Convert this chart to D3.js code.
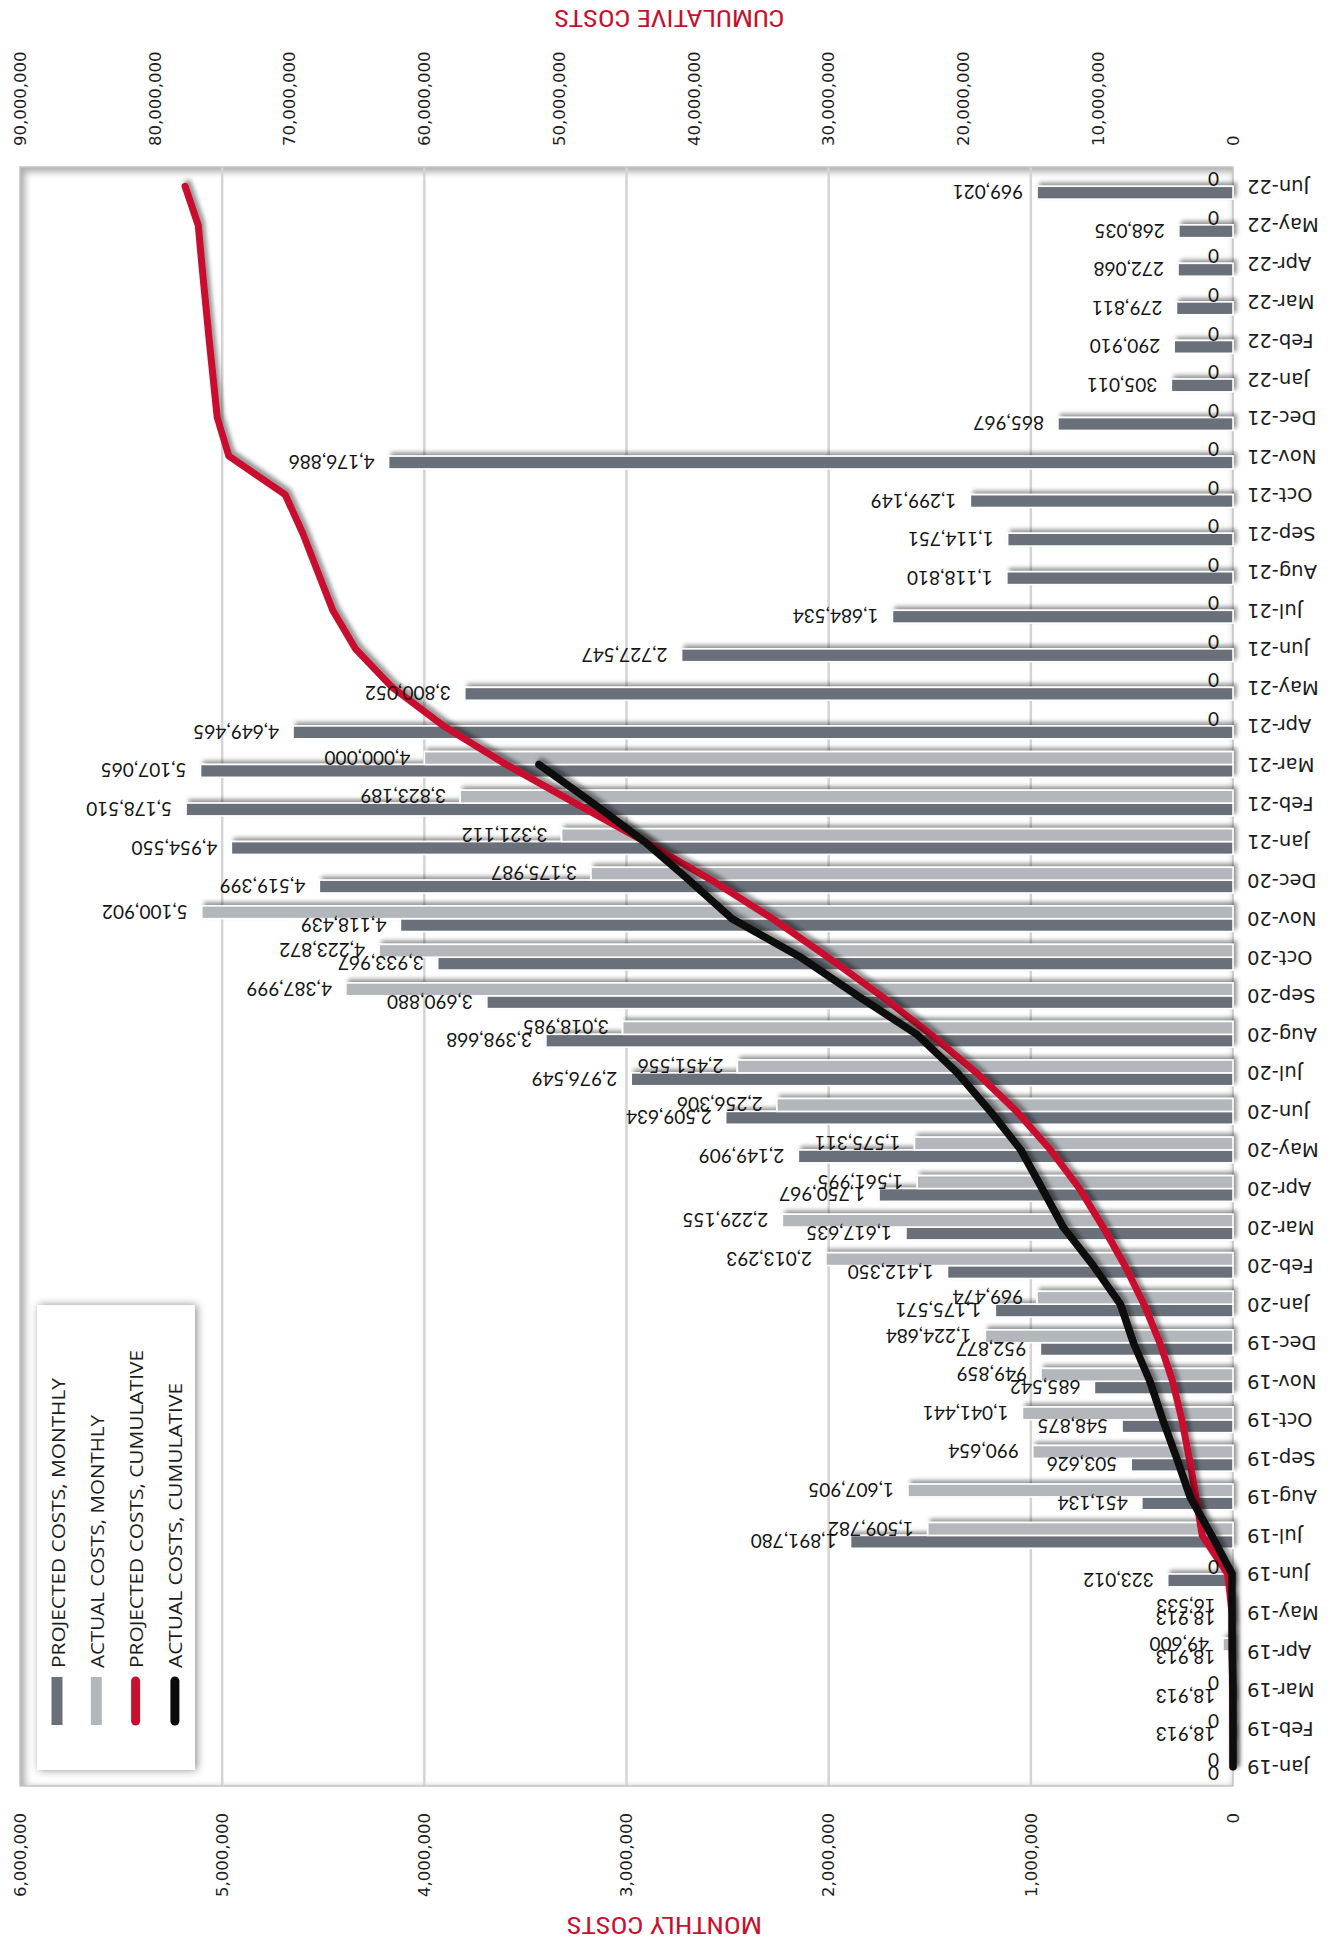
<!DOCTYPE html>
<html>
<head>
<meta charset="utf-8">
<script src="https://cdn.jsdelivr.net/npm/d3@7"></script>
<style>
  html, body { margin: 0; padding: 0; background: #fff; }
  svg { display: block; }
</style>
</head>
<body>
<svg id="chart" width="1332" height="1944"></svg>
<script>
// Months of the project schedule
const months = [
  "Jan-19","Feb-19","Mar-19","Apr-19","May-19","Jun-19","Jul-19","Aug-19","Sep-19","Oct-19","Nov-19","Dec-19",
  "Jan-20","Feb-20","Mar-20","Apr-20","May-20","Jun-20","Jul-20","Aug-20","Sep-20","Oct-20","Nov-20","Dec-20",
  "Jan-21","Feb-21","Mar-21","Apr-21","May-21","Jun-21","Jul-21","Aug-21","Sep-21","Oct-21","Nov-21","Dec-21",
  "Jan-22","Feb-22","Mar-22","Apr-22","May-22","Jun-22"
];

// Projected monthly costs
const projectedMonthly = [
  0, 18913, 18913, 18913, 18913, 323012, 1891780, 451134, 503626, 548875, 685542, 952877,
  1175571, 1412350, 1617635, 1750967, 2149909, 2509634, 2976549, 3398668, 3690880, 3933967, 4118439, 4519399,
  4954550, 5178510, 5107065, 4649465, 3800052, 2727547, 1684534, 1118810, 1114751, 1299149, 4176886, 865967,
  305011, 290910, 279811, 272068, 268035, 969021
];

// Actual monthly costs (reported through Mar-21)
const actualMonthly = [
  0, 0, 0, 49600, 16533, 0, 1509782, 1607905, 990654, 1041441, 949859, 1224684,
  969474, 2013293, 2229155, 1561995, 1575311, 2256306, 2451556, 3018985, 4387999, 4223872, 5100902, 3175987,
  3321112, 3823189, 4000000, 0, 0, 0, 0, 0, 0, 0, 0, 0,
  0, 0, 0, 0, 0, 0
];
const lastActualMonth = "Mar-21";

// Axis ticks
const monthlyTicks = [0, 1000000, 2000000, 3000000, 4000000, 5000000, 6000000];
const cumulativeTicks = [0, 10000000, 20000000, 30000000, 40000000, 50000000, 60000000, 70000000, 80000000, 90000000];

const legendItems = [
  { label: "PROJECTED COSTS, MONTHLY",    kind: "bar",  color: "#6a7079", len: 290 },
  { label: "ACTUAL COSTS, MONTHLY",       kind: "bar",  color: "#b3b7bb", len: 253 },
  { label: "PROJECTED COSTS, CUMULATIVE", kind: "line", color: "#c8102e", len: 318 },
  { label: "ACTUAL COSTS, CUMULATIVE",    kind: "line", color: "#0a0a0a", len: 285 }
];

const COLORS = { projected: "#6a7079", actual: "#b3b7bb", projCum: "#c8102e", actCum: "#0a0a0a", title: "#c8102e" };

// The chart is laid out as a landscape column chart and turned a quarter
// turn counter-clockwise to fill the portrait page.
const W = 1944, H = 1332;
const plot = { left: 158, right: 1777, top: 20, bottom: 1233 };

const svg = d3.select("#chart");
const defs = svg.append("defs");

const shadow = defs.append("filter").attr("id", "shadow")
  .attr("x", "-20%").attr("y", "-20%").attr("width", "140%").attr("height", "140%");
shadow.append("feDropShadow").attr("dx", 3).attr("dy", 3).attr("stdDeviation", 2.2)
  .attr("flood-color", "#000").attr("flood-opacity", 0.42);

const softShadow = defs.append("filter").attr("id", "softShadow")
  .attr("x", "-20%").attr("y", "-20%").attr("width", "140%").attr("height", "140%");
softShadow.append("feDropShadow").attr("dx", 0).attr("dy", 2).attr("stdDeviation", 4)
  .attr("flood-color", "#000").attr("flood-opacity", 0.45);

const blur = defs.append("filter").attr("id", "blur")
  .attr("x", "-5%").attr("y", "-5%").attr("width", "110%").attr("height", "110%");
blur.append("feGaussianBlur").attr("stdDeviation", 3.5);

defs.append("clipPath").attr("id", "plotClip").append("rect")
  .attr("x", plot.left).attr("y", plot.top)
  .attr("width", plot.right - plot.left).attr("height", plot.bottom - plot.top);

const root = svg.append("g").attr("transform", `translate(0,${W}) rotate(-90)`);

// Scales
const x = d3.scaleBand().domain(months).range([plot.left, plot.right]);
const bw = x.bandwidth();
const barW = bw / 3;
const yM = d3.scaleLinear().domain([0, 6000000]).range([plot.bottom, plot.top]);
const yC = d3.scaleLinear().domain([0, 90000000]).range([plot.bottom, plot.top]);
const fmt = d3.format(",");

// Plot area with a soft inner shadow along its frame
root.append("rect")
  .attr("x", plot.left).attr("y", plot.top)
  .attr("width", plot.right - plot.left).attr("height", plot.bottom - plot.top)
  .attr("fill", "#fff");

root.append("g").attr("clip-path", "url(#plotClip)")
  .append("rect")
  .attr("x", plot.left - 9).attr("y", plot.top - 9)
  .attr("width", plot.right - plot.left + 18).attr("height", plot.bottom - plot.top + 18)
  .attr("transform", "translate(-3,3)")
  .attr("fill", "none").attr("stroke", "#000").attr("stroke-opacity", 0.32)
  .attr("stroke-width", 22).attr("filter", "url(#blur)");

// Gridlines at the monthly-cost ticks
root.append("g").selectAll("line")
  .data(monthlyTicks.filter(t => t > 0 && t < 6000000))
  .join("line")
  .attr("x1", plot.left).attr("x2", plot.right)
  .attr("y1", d => yM(d)).attr("y2", d => yM(d))
  .attr("stroke", "#d4d4d4").attr("stroke-width", 2.5);

root.append("rect")
  .attr("x", plot.left).attr("y", plot.top)
  .attr("width", plot.right - plot.left).attr("height", plot.bottom - plot.top)
  .attr("fill", "none").attr("stroke", "#c4c4c4").attr("stroke-width", 1.5);

// Monthly bars
const rows = months.map((m, i) => ({ m, p: projectedMonthly[i], a: actualMonthly[i] }));

const bars = root.append("g").attr("filter", "url(#shadow)");
bars.selectAll("rect.proj").data(rows).join("rect")
  .attr("class", "proj")
  .attr("x", d => x(d.m) + bw / 2 - barW)
  .attr("width", barW)
  .attr("y", d => yM(d.p))
  .attr("height", d => yM(0) - yM(d.p))
  .attr("fill", COLORS.projected)
  .attr("stroke", "#fff").attr("stroke-width", 1.6);
bars.selectAll("rect.act").data(rows).join("rect")
  .attr("class", "act")
  .attr("x", d => x(d.m) + bw / 2)
  .attr("width", barW)
  .attr("y", d => yM(d.a))
  .attr("height", d => yM(0) - yM(d.a))
  .attr("fill", COLORS.actual)
  .attr("stroke", "#fff").attr("stroke-width", 1.6);

// Cumulative lines
const projCum = Array.from(d3.cumsum(projectedMonthly));
const lastIdx = months.indexOf(lastActualMonth);
const actCum = Array.from(d3.cumsum(actualMonthly)).slice(0, lastIdx + 1);

const line = d3.line()
  .x((d, i) => x(months[i]) + bw / 2)
  .y(d => yC(d));

root.append("path").datum(projCum)
  .attr("d", line).attr("fill", "none")
  .attr("stroke", COLORS.projCum).attr("stroke-width", 7)
  .attr("stroke-linejoin", "round").attr("stroke-linecap", "round")
  .attr("filter", "url(#shadow)");
root.append("path").datum(actCum)
  .attr("d", line).attr("fill", "none")
  .attr("stroke", COLORS.actCum).attr("stroke-width", 7.5)
  .attr("stroke-linejoin", "round").attr("stroke-linecap", "round")
  .attr("filter", "url(#shadow)");

// Data labels on every bar
const labels = root.append("g")
  .attr("font-family", "Lato, 'Open Sans', sans-serif")
  .attr("font-size", 19).attr("fill", "#141414");
labels.selectAll("text.pl").data(rows).join("text")
  .attr("class", "pl")
  .attr("transform", d => `translate(${x(d.m) + bw / 2 - barW / 2},${yM(d.p) - 14}) rotate(-90)`)
  .attr("text-anchor", "start").attr("dominant-baseline", "central")
  .text(d => fmt(d.p));
labels.selectAll("text.al").data(rows).join("text")
  .attr("class", "al")
  .attr("transform", d => `translate(${x(d.m) + bw / 2 + barW / 2},${yM(d.a) - 14}) rotate(-90)`)
  .attr("text-anchor", "start").attr("dominant-baseline", "central")
  .text(d => fmt(d.a));

// Axes
const axisFont = g => g.selectAll("text")
  .attr("font-family", "'DejaVu Sans', Verdana, sans-serif")
  .attr("font-size", 16.5).attr("fill", "#1c1c1c");

root.append("g")
  .attr("transform", `translate(${plot.left},0)`)
  .call(d3.axisLeft(yM).tickValues(monthlyTicks).tickFormat(fmt).tickSize(0).tickPadding(27))
  .call(g => g.select(".domain").remove())
  .call(axisFont);

root.append("g")
  .attr("transform", `translate(${plot.right},0)`)
  .call(d3.axisRight(yC).tickValues(cumulativeTicks).tickFormat(fmt).tickSize(0).tickPadding(21))
  .call(g => g.select(".domain").remove())
  .call(axisFont);

const bottomAxis = root.append("g")
  .attr("transform", `translate(0,${plot.bottom})`)
  .call(d3.axisBottom(x).tickSize(0))
  .call(g => g.select(".domain").remove());
bottomAxis.selectAll("text")
  .attr("transform", "rotate(-90)")
  .attr("x", -14).attr("y", 0).attr("dy", null)
  .attr("text-anchor", "end").attr("dominant-baseline", "central")
  .attr("font-family", "'DejaVu Sans', Verdana, sans-serif")
  .attr("font-size", 19.5).attr("fill", "#1c1c1c");

// Axis titles
const titleFont = "'Liberation Sans Narrow', 'Roboto Condensed', Roboto, sans-serif";
root.append("text")
  .attr("transform", `translate(20,${(plot.top + plot.bottom) / 2 + 38}) rotate(-90)`)
  .attr("text-anchor", "middle").attr("dominant-baseline", "central")
  .attr("font-family", titleFont).attr("font-size", 23).attr("fill", COLORS.title)
  .attr("textLength", 195).attr("lengthAdjust", "spacingAndGlyphs")
  .text("MONTHLY COSTS");
root.append("text")
  .attr("transform", `translate(1927,${(plot.top + plot.bottom) / 2 + 43}) rotate(-90)`)
  .attr("text-anchor", "middle").attr("dominant-baseline", "central")
  .attr("font-family", titleFont).attr("font-size", 23).attr("fill", COLORS.title)
  .attr("textLength", 230).attr("lengthAdjust", "spacingAndGlyphs")
  .text("CUMULATIVE COSTS");

// Legend
const legend = root.append("g").attr("transform", "translate(174,37)");
legend.append("rect")
  .attr("width", 465).attr("height", 158)
  .attr("fill", "#fff").attr("filter", "url(#softShadow)");
const li = legend.selectAll("g.item").data(legendItems).join("g")
  .attr("class", "item")
  .attr("transform", (d, i) => `translate(0,${20 + i * 39.3})`);
li.filter(d => d.kind === "bar").append("rect")
  .attr("x", 45).attr("y", -5.5).attr("width", 48).attr("height", 11)
  .attr("fill", d => d.color);
li.filter(d => d.kind === "line").append("line")
  .attr("x1", 49).attr("x2", 89).attr("y1", 0).attr("y2", 0)
  .attr("stroke", d => d.color).attr("stroke-width", 9).attr("stroke-linecap", "round");
li.append("text")
  .attr("x", 102).attr("y", 0)
  .attr("dominant-baseline", "central")
  .attr("font-family", "'Open Sans', sans-serif").attr("font-size", 18.5).attr("fill", "#1c1c1c")
  .attr("textLength", d => d.len).attr("lengthAdjust", "spacingAndGlyphs")
  .text(d => d.label);
</script>
</body>
</html>
